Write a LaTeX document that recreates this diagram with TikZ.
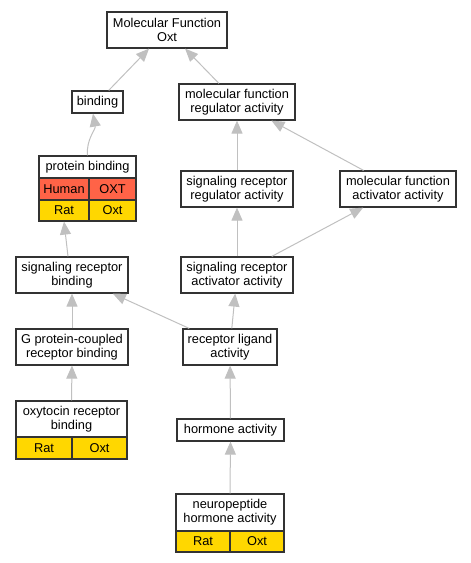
\documentclass[tikz,border=0pt]{standalone}
\usepackage{fontspec}
\setmainfont{Liberation Sans}
\usetikzlibrary{arrows.meta,calc}
\definecolor{boxline}{HTML}{333333}
\definecolor{edgegray}{HTML}{C0C0C0}
\definecolor{humanred}{HTML}{FF6347}
\definecolor{ratgold}{HTML}{FFD700}
\begin{document}
\begin{tikzpicture}[x=1pt,y=-1pt,
  box/.style={draw=boxline, line width=1.2pt, fill=white, align=center, inner sep=0pt,
    font=\fontsize{12.8}{13.8}\selectfont},
  redcell/.style={box, fill=humanred},
  goldcell/.style={box, fill=ratgold},
  edge/.style={draw=edgegray, line width=1pt, -{Triangle[length=13pt,width=11pt]}}
]
\useasboundingbox (0,0) rectangle (471,563);

% top
\node[box, minimum width=120pt, minimum height=36pt] (mf) at (167,30) {Molecular Function\\Oxt};
\node[box, minimum width=51pt, minimum height=22pt] (bind) at (97.5,102) {binding};
\node[box, minimum width=116pt, minimum height=36pt] (mfra) at (237,102) {molecular function\\regulator activity};

% protein binding table
\node[box, minimum width=97pt, minimum height=22pt] (pbt) at (87.5,167) {protein binding};
\node[redcell, minimum width=50pt, minimum height=22pt] (pbhs) at (64,189) {Human};
\node[redcell, minimum width=47pt, minimum height=22pt] (pbhg) at (112.5,189) {OXT};
\node[goldcell, minimum width=50pt, minimum height=21pt] (pbrs) at (64,210.5) {Rat};
\node[goldcell, minimum width=47pt, minimum height=21pt] (pbrg) at (112.5,210.5) {Oxt};

\node[box, minimum width=112pt, minimum height=36pt] (srra) at (237,189) {signaling receptor\\regulator activity};
\node[box, minimum width=116pt, minimum height=36pt] (mfaa) at (398,189) {molecular function\\activator activity};

\node[box, minimum width=112pt, minimum height=36pt] (srb) at (72,275) {signaling receptor\\binding};
\node[box, minimum width=112pt, minimum height=36pt] (sraa) at (237,275) {signaling receptor\\activator activity};

\node[box, minimum width=112pt, minimum height=36pt] (gpcr) at (72,347) {G protein-coupled\\receptor binding};
\node[box, minimum width=94pt, minimum height=36pt] (rla) at (230,347) {receptor ligand\\activity};

% oxytocin receptor binding table
\node[box, minimum width=111pt, minimum height=36pt] (orb) at (71.5,419) {oxytocin receptor\\binding};
\node[goldcell, minimum width=56pt, minimum height=22pt] (orbrs) at (44,448) {Rat};
\node[goldcell, minimum width=55pt, minimum height=22pt] (orbrg) at (99.5,448) {Oxt};

\node[box, minimum width=107pt, minimum height=22pt] (horm) at (230.5,430) {hormone activity};

% neuropeptide hormone activity table
\node[box, minimum width=108pt, minimum height=37pt] (np) at (230,512.5) {neuropeptide\\hormone activity};
\node[goldcell, minimum width=54pt, minimum height=21pt] (nprs) at (203,541.5) {Rat};
\node[goldcell, minimum width=54pt, minimum height=21pt] (nprg) at (257,541.5) {Oxt};

% edges
\draw[edge] (bind) -- (mf);
\draw[edge] (mfra) -- (mf);
\draw[edge] (pbt.north) to[out=95,in=-80] ($(bind.south)+(-4.5,0)$);
\draw[edge] (srra) -- (mfra);
\draw[edge] (mfaa) -- (mfra);
\draw[edge] ($(srb.north)+(-4,0)$) -- (pbrs.south);
\draw[edge] (sraa) -- (srra);
\draw[edge] (sraa) -- (mfaa);
\draw[edge] (gpcr) -- (srb);
\draw[edge] (rla) -- (srb);
\draw[edge] (rla) -- (sraa);
\draw[edge] (orb.north) -- (gpcr.south);
\draw[edge] (horm) -- (rla);
\draw[edge] (np.north) -- (horm.south);
\end{tikzpicture}
\end{document}
